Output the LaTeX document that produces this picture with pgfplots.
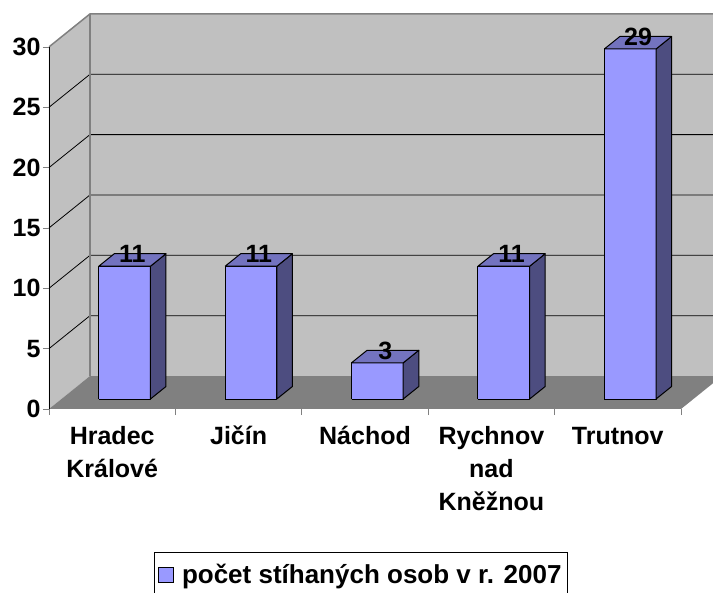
\documentclass[border=0pt]{standalone}
\usepackage{pgfplots}
\usepackage{pgfplotstable}
\usepackage{fontspec}
\setmainfont{Liberation Sans}
\pgfplotsset{compat=1.18}
\definecolor{barfront}{HTML}{9999FF}
\definecolor{barside}{HTML}{4D4D80}
\definecolor{bartop}{HTML}{7373BF}
\definecolor{wallc}{HTML}{C0C0C0}
\definecolor{floorc}{HTML}{808080}
\definecolor{edgec}{HTML}{808080}

\pgfplotstableread{
idx value
0 11
1 11
2 3
3 11
4 29
}\datatable

\begin{document}
\begin{tikzpicture}
\path[use as bounding box] (0pt,0pt) rectangle (713pt,-593pt);
\begin{axis}[
  at={(49pt,-409pt)}, anchor=south west,
  scale only axis, width=664pt, height=409pt,
  xmin=-0.5, xmax=4.7532, ymin=0, ymax=33.886,
  axis lines*=left, axis line style={draw=none},
  /pgf/number format/assume math mode=true,
  ytick={0,5,...,30},
  yticklabel style={font=\bfseries\fontsize{25}{25}\selectfont, xshift=1pt},
  xtick={-0.5,0.5,...,4.5}, xticklabels={},
  extra x ticks={0,1,2,3,4},
  extra x tick labels={\strut Hradec\\Králové,\strut Jičín,\strut Náchod,\strut Rychnov\\nad\\Kněžnou,\strut Trutnov},
  extra x tick style={major tick length=0pt, tick style={draw=none},
     xticklabel style={align=center, anchor=north, yshift=-9pt, font=\bfseries\fontsize{25}{33}\selectfont}},
  tick align=outside,
  major tick length=6pt,
  tick style={draw=edgec, line width=0.8pt},
  legend style={at={(0.4697,-0.3496)}, anchor=north, draw=black, line width=0.8pt,
     inner xsep=4pt, inner ysep=10pt,
     font=\bfseries\fontsize{26}{26}\selectfont, legend cell align=left},
  legend image code/.code={\draw[#1] (0pt,-7.5pt) rectangle (15pt,7.5pt); \path (21pt,0pt);},
]
% walls and floor
\addplot[fill=wallc, draw=none, forget plot] coordinates {(-0.1756,2.734) (4.8244,2.734) (4.8244,32.734) (-0.1756,32.734)};
\addplot[fill=wallc, draw=none, forget plot] coordinates {(-0.5,0) (-0.1756,2.734) (-0.1756,32.734) (-0.5,30)};
\addplot[fill=floorc, draw=none, forget plot] coordinates {(-0.5,0) (4.5,0) (4.8244,2.734) (-0.1756,2.734)};
% gridlines
\addplot[black, line width=0.8pt, forget plot] coordinates {(-0.5,5) (-0.1756,7.734) (4.8244,7.734)};
\addplot[black, line width=0.8pt, forget plot] coordinates {(-0.5,10) (-0.1756,12.734) (4.8244,12.734)};
\addplot[black, line width=0.8pt, forget plot] coordinates {(-0.5,15) (-0.1756,17.734) (4.8244,17.734)};
\addplot[black, line width=0.8pt, forget plot] coordinates {(-0.5,20) (-0.1756,22.734) (4.8244,22.734)};
\addplot[black, line width=0.8pt, forget plot] coordinates {(-0.5,25) (-0.1756,27.734) (4.8244,27.734)};
% wall edges
\addplot[edgec, line width=1.5pt, forget plot] coordinates {(-0.5,30) (-0.1756,32.734) (4.8244,32.734)};
\addplot[edgec, line width=1.5pt, forget plot] coordinates {(-0.1756,2.734) (-0.1756,32.734)};
% axis lines
\addplot[black, line width=0.8pt, forget plot] coordinates {(-0.5,0) (-0.5,30)};
\addplot[black!60, line width=0.8pt, forget plot] coordinates {(-0.5,0) (4.5,0)};
% bars
\pgfplotsinvokeforeach{0,...,4}{
  \pgfplotstablegetelem{#1}{value}\of\datatable
  \pgfmathsetmacro\xl{#1-0.1065}
  \pgfmathsetmacro\xr{#1+0.3025}
  \pgfmathsetmacro\xlb{#1-0.1065+0.123}
  \pgfmathsetmacro\xrb{#1+0.3025+0.123}
  \pgfmathsetmacro\yb{0.828}
  \pgfmathsetmacro\yt{\pgfplotsretval+0.828}
  \pgfmathsetmacro\ybb{0.828+1.036}
  \pgfmathsetmacro\ytb{\pgfplotsretval+0.828+1.036}
  \addplot[fill=barfront, draw=black, line width=1pt, line join=round, forget plot]
    coordinates {(\xl,\yb) (\xr,\yb) (\xr,\yt) (\xl,\yt) (\xl,\yb)};
  \addplot[fill=barside, draw=black, line width=1pt, line join=round, forget plot]
    coordinates {(\xr,\yb) (\xrb,\ybb) (\xrb,\ytb) (\xr,\yt) (\xr,\yb)};
  \addplot[fill=bartop, draw=black, line width=1pt, line join=round, forget plot]
    coordinates {(\xl,\yt) (\xr,\yt) (\xrb,\ytb) (\xlb,\ytb) (\xl,\yt)};
}
% value labels
\addplot[draw=none, mark=none, forget plot, nodes near coords, point meta=explicit,
  every node near coord/.append style={anchor=center, font=\bfseries\fontsize{25}{25}\selectfont, text=black}]
  table[x expr=\thisrow{idx}+0.160, y expr=\thisrow{value}+1.85, meta=value] {\datatable};
\addlegendimage{fill=barfront, draw=black, line width=0.8pt}
\addlegendentry{počet stíhaných osob v r. 2007}
\end{axis}
\end{tikzpicture}
\end{document}
